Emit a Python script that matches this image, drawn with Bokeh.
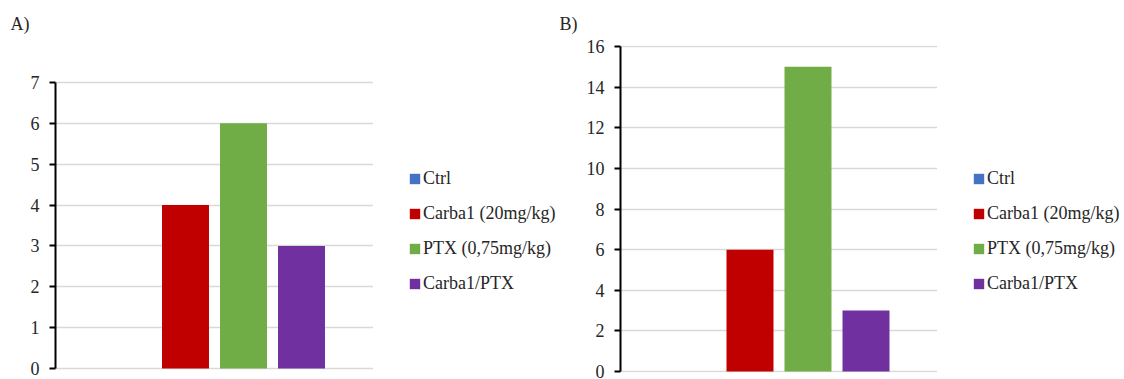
from bokeh.plotting import figure
from bokeh.models import Range1d, FixedTicker, Legend, LegendItem, ColumnDataSource
from bokeh.layouts import row
from bokeh.embed import file_html
from bokeh.resources import INLINE

series = ["Ctrl", "Carba1 (20mg/kg)", "PTX (0,75mg/kg)", "Carba1/PTX"]
colors = ["#4472C4", "#C00000", "#70AD47", "#7030A0"]
values_a = [0, 4, 6, 3]
values_b = [0, 6, 15, 3]
ticks_a = [0, 1, 2, 3, 4, 5, 6, 7]
ticks_b = [0, 2, 4, 6, 8, 10, 12, 14, 16]
panel_a = "A)"
panel_b = "B)"

FONT = "Liberation Serif"
TXT = "#262626"
H = 379
FRAME_TOP = 45      # px from top of figure
FRAME_BOTTOM = 372  # px from top of figure


def make_chart(values, ticks, panel_label, border_left, frame_w, y0_px, ytop_px,
               title_offset, title_standoff, bar_w=0.81, step_px=58.0):
    xs = list(range(len(values)))
    span = frame_w / step_px / 2.0
    center = (len(values) - 1) / 2.0
    ppu = (y0_px - ytop_px) / (ticks[-1] - ticks[0])
    y_start = ticks[0] - (FRAME_BOTTOM - y0_px) / ppu
    y_end = ticks[-1] + (ytop_px - FRAME_TOP) / ppu
    p = figure(width=border_left + frame_w, height=H, output_backend="svg",
               toolbar_location=None,
               x_range=Range1d(center - span, center + span),
               y_range=Range1d(y_start, y_end),
               min_border_left=border_left, min_border_right=0,
               min_border_top=FRAME_TOP, min_border_bottom=H - FRAME_BOTTOM)
    p.outline_line_color = None
    p.background_fill_color = "white"
    p.border_fill_color = "white"
    p.xaxis.visible = False
    p.xgrid.visible = False
    p.ygrid.ticker = FixedTicker(ticks=ticks)
    p.ygrid.grid_line_color = "#d9d9d9"
    p.ygrid.grid_line_width = 1.5
    p.yaxis.ticker = FixedTicker(ticks=ticks)
    p.yaxis.bounds = (ticks[0], ticks[-1])
    p.yaxis.minor_tick_line_color = None
    p.yaxis.axis_line_color = "black"
    p.yaxis.axis_line_width = 2
    p.yaxis.major_tick_line_color = "black"
    p.yaxis.major_tick_line_width = 2
    p.yaxis.major_tick_out = 6
    p.yaxis.major_tick_in = 0
    p.yaxis.major_label_standoff = 10
    p.yaxis.major_label_text_font = FONT
    p.yaxis.major_label_text_font_size = "18px"
    p.yaxis.major_label_text_color = TXT

    for i, (col, v) in enumerate(zip(colors, values)):
        src = ColumnDataSource(dict(x=[xs[i]], top=[v]))
        p.vbar(x="x", top="top", bottom=0, width=bar_w, source=src,
               fill_color=col, line_color=None)

    p.title.text = panel_label
    p.title.align = "left"
    p.title.offset = title_offset
    p.title.standoff = title_standoff
    p.title.text_font = FONT
    p.title.text_font_size = "18px"
    p.title.text_font_style = "normal"
    p.title.text_color = TXT
    return p


def make_legend_fig(width, values, legend_x, legend_y):
    q = figure(width=width, height=H, output_backend="svg", toolbar_location=None,
               x_range=Range1d(0, 1), y_range=Range1d(0, 1),
               x_axis_location=None, y_axis_location=None,
               min_border_left=0, min_border_right=0, min_border_top=0, min_border_bottom=0)
    q.outline_line_color = None
    q.xgrid.visible = False
    q.ygrid.visible = False
    q.background_fill_color = "white"
    q.border_fill_color = "white"
    items = []
    for i, (name, col, v) in enumerate(zip(series, colors, values)):
        # legend proxy glyph, kept outside the visible range of this figure
        src = ColumnDataSource(dict(x=[10 + i], top=[v]))
        r = q.vbar(x="x", top="top", bottom=0, width=0.1, source=src,
                   fill_color=col, line_color=None)
        items.append(LegendItem(label=name, renderers=[r]))
    legend = Legend(items=items, location=(legend_x, legend_y))
    legend.border_line_color = None
    legend.background_fill_alpha = 0
    legend.padding = 0
    legend.margin = 0
    legend.glyph_width = 13
    legend.glyph_height = 13
    legend.label_standoff = 2
    legend.label_height = 20
    legend.spacing = 14
    legend.label_text_font = FONT
    legend.label_text_font_size = "18px"
    legend.label_text_color = TXT
    q.add_layout(legend, "center")
    return q


# Panel A: chart x 0..373 (axis at 55), legend fig 373..560
ca = make_chart(values_a, ticks_a, panel_a, border_left=55, frame_w=318,
                y0_px=368, ytop_px=82, title_offset=-45, title_standoff=23)
la = make_legend_fig(187, values_a, 35, 78)
# Panel B: chart x 560..937 (axis at 620), legend fig 937..1124
cb = make_chart(values_b, ticks_b, panel_b, border_left=60, frame_w=317,
                y0_px=371, ytop_px=46, title_offset=-61, title_standoff=23)
lb = make_legend_fig(187, values_b, 35, 78)

layout = row(ca, la, cb, lb)
open("out.html", "w").write(file_html(layout, INLINE))
